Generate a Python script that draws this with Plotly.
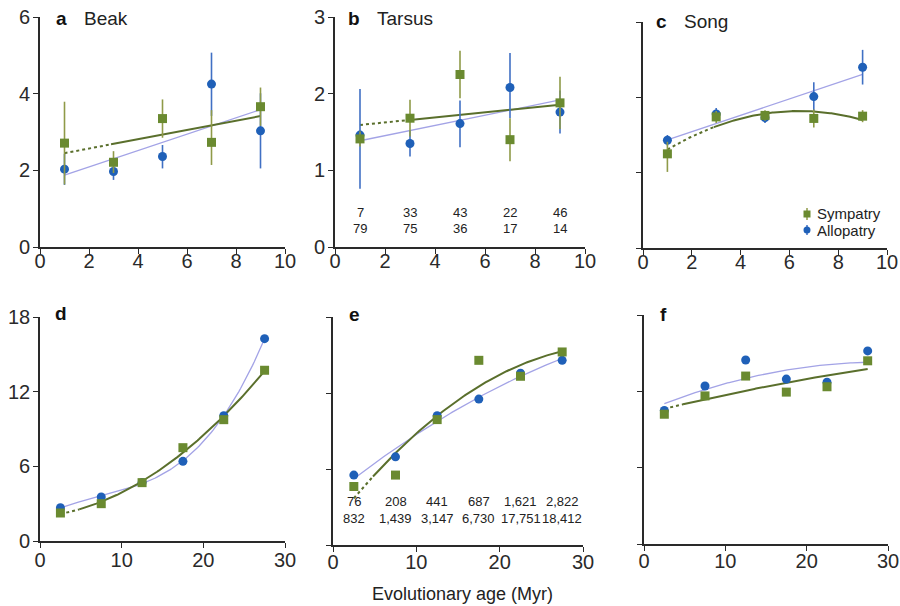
import numpy as np
import plotly.graph_objects as go

W, H = 900, 606

# ---------------- data ----------------
age_top = [1, 3, 5, 7, 9]
age_bot = [2.5, 7.5, 12.5, 17.5, 22.5, 27.5]

beak_sym = [2.71, 2.21, 3.35, 2.73, 3.66]
beak_sym_up = [1.08, 0.29, 0.50, 0.84, 0.50]
beak_sym_dn = [1.08, 0.28, 0.50, 0.59, 0.50]
beak_allo = [2.03, 1.97, 2.36, 4.25, 3.03]
beak_allo_up = [0.40, 0.22, 0.30, 0.82, 0.98]
beak_allo_dn = [0.41, 0.22, 0.31, 0.83, 0.98]

tarsus_sym = [1.41, 1.68, 2.25, 1.40, 1.88]
tarsus_sym_up = [0.10, 0.24, 0.31, 0.28, 0.34]
tarsus_sym_dn = [0.10, 0.24, 0.31, 0.28, 0.34]
tarsus_allo = [1.46, 1.35, 1.61, 2.08, 1.76]
tarsus_allo_up = [0.60, 0.17, 0.30, 0.45, 0.28]
tarsus_allo_dn = [0.70, 0.17, 0.31, 0.40, 0.28]

song_sym = [1.25, 1.74, 1.76, 1.72, 1.75]
song_sym_up = [0.16, 0.08, 0.07, 0.12, 0.08]
song_sym_dn = [0.24, 0.08, 0.07, 0.12, 0.08]
song_allo = [1.43, 1.78, 1.73, 2.01, 2.40]
song_allo_up = [0.07, 0.08, 0.07, 0.19, 0.23]
song_allo_dn = [0.07, 0.08, 0.07, 0.19, 0.23]

d_sym = [2.25, 3.00, 4.69, 7.50, 9.75, 13.72]
d_allo = [2.68, 3.54, 4.70, 6.40, 10.07, 16.26]
e_sym = [0.77, 0.92, 1.65, 2.43, 2.22, 2.54]
e_allo = [0.92, 1.16, 1.70, 1.92, 2.26, 2.43]
f_sym = [1.70, 1.94, 2.20, 1.99, 2.06, 2.40]
f_allo = [1.75, 2.07, 2.41, 2.16, 2.12, 2.53]

tarsus_n_sym = ["7", "33", "43", "22", "46"]
tarsus_n_allo = ["79", "75", "36", "17", "14"]
e_n_sym = ["76", "208", "441", "687", "1,621", "2,822"]
e_n_allo = ["832", "1,439", "3,147", "6,730", "17,751", "18,412"]

legend_names = ["Sympatry", "Allopatry"]

# ---------------- style ----------------
BLUE = "#1f60b8"
BLUE_ERR = "#4070c4"
BLUE_FIT = "#a3a3e6"
GREEN = "#6a8a30"
GREEN_ERR = "#8f9a48"
GREEN_FIT = "#5a6f2c"
AX = "#2a2a2a"
FONT = "Liberation Sans, Arial, sans-serif"
TICK_SIZE = 20

# panel pixel boxes: (x0px, x1px, ybottom_px, ytop_px)
panels = {
    "a": dict(box=(40, 285, 247, 17), xr=[0, 10], yr=[0, 6], xt=[0, 2, 4, 6, 8, 10], yt=[0, 2, 4, 6], ylab=True, so=-10),
    "b": dict(box=(335, 585, 247, 17), xr=[0, 10], yr=[0, 3], xt=[0, 2, 4, 6, 8, 10], yt=[0, 1, 2, 3], ylab=True, so=-10),
    "c": dict(box=(643, 887, 248, 22), xr=[0, 10], yr=[0, 3], xt=[0, 2, 4, 6, 8, 10], yt=[0, 1, 2, 3], ylab=False, so=-10),
    "d": dict(box=(40, 285, 541, 317), xr=[0, 30], yr=[0, 18], xt=[0, 10, 20, 30], yt=[0, 6, 12, 18], ylab=True, so=-5),
    "e": dict(box=(333, 583, 545, 317), xr=[0, 30], yr=[0, 3], xt=[0, 10, 20, 30], yt=[0, 1, 2, 3], ylab=False, so=-7),
    "f": dict(box=(644, 888, 544, 315), xr=[0, 30], yr=[0, 3], xt=[0, 10, 20, 30], yt=[0, 1, 2, 3], ylab=False, so=-7),
}

fig = go.Figure()
layout = dict(
    width=W, height=H, margin=dict(l=0, r=0, t=0, b=0, autoexpand=False),
    paper_bgcolor="white", plot_bgcolor="white",
    font=dict(family=FONT, color=AX),
    annotations=[], shapes=[], showlegend=False,
)

axis_ids = {}
for i, (k, p) in enumerate(panels.items()):
    n = i + 1
    sfx = "" if n == 1 else str(n)
    x0, x1, yb, yt_ = p["box"]
    axis_ids[k] = ("x" + sfx, "y" + sfx)
    layout["xaxis" + sfx] = dict(
        domain=[x0 / W, x1 / W], range=p["xr"], anchor="y" + sfx, automargin=False,
        showline=True, linecolor=AX, linewidth=1.6, ticks="outside", ticklen=5,
        tickwidth=1.4, tickcolor=AX, tickvals=p["xt"], showgrid=False, zeroline=False,
        tickfont=dict(size=TICK_SIZE, color=AX, family=FONT), ticklabelstandoff=p["so"],
    )
    layout["yaxis" + sfx] = dict(
        domain=[1 - yb / H, 1 - yt_ / H], range=p["yr"], anchor="x" + sfx, automargin=False,
        showline=True, linecolor=AX, linewidth=1.6, ticks="outside", ticklen=5,
        tickwidth=1.4, tickcolor=AX, tickvals=p["yt"], showgrid=False, zeroline=False,
        showticklabels=p["ylab"], tickfont=dict(size=TICK_SIZE, color=AX, family=FONT),
        ticklabelstandoff=-1,
    )


def fit_traces(xs, ys, deg, xa, ya, color, width, dash_to=None):
    c = np.polyfit(xs, ys, deg)
    if dash_to is None:
        gx = np.linspace(xs[0], xs[-1], 120)
        fig.add_trace(go.Scatter(x=gx, y=np.polyval(c, gx), mode="lines", xaxis=xa, yaxis=ya,
                                 line=dict(color=color, width=width), hoverinfo="skip"))
    else:
        gx1 = np.linspace(xs[0], dash_to, 30)
        gx2 = np.linspace(dash_to, xs[-1], 120)
        fig.add_trace(go.Scatter(x=gx1, y=np.polyval(c, gx1), mode="lines", xaxis=xa, yaxis=ya,
                                 line=dict(color=color, width=width, dash="3px,3px"), hoverinfo="skip"))
        fig.add_trace(go.Scatter(x=gx2, y=np.polyval(c, gx2), mode="lines", xaxis=xa, yaxis=ya,
                                 line=dict(color=color, width=width), hoverinfo="skip"))


def points(xs, ys, xa, ya, kind, up=None, dn=None):
    if kind == "allo":
        mk = dict(symbol="circle", size=9, color=BLUE)
        ec, name = BLUE_ERR, legend_names[1]
    else:
        mk = dict(symbol="square", size=9, color=GREEN)
        ec, name = GREEN_ERR, legend_names[0]
    err = None
    if up is not None:
        err = dict(type="data", array=up, arrayminus=dn, symmetric=False, color=ec, thickness=1.6, width=0)
    fig.add_trace(go.Scatter(x=xs, y=ys, mode="markers", xaxis=xa, yaxis=ya, marker=mk, error_y=err, name=name))


top_sets = {
    "a": (beak_sym, beak_sym_up, beak_sym_dn, beak_allo, beak_allo_up, beak_allo_dn, 1, 1),
    "b": (tarsus_sym, tarsus_sym_up, tarsus_sym_dn, tarsus_allo, tarsus_allo_up, tarsus_allo_dn, 1, 1),
    "c": (song_sym, song_sym_up, song_sym_dn, song_allo, song_allo_up, song_allo_dn, 2, 1),
}
for k, (s, su, sd, a, au, ad, gdeg, bdeg) in top_sets.items():
    xa, ya = axis_ids[k]
    fit_traces(age_top, a, bdeg, xa, ya, BLUE_FIT, 1.3)
    fit_traces(age_top, s, gdeg, xa, ya, GREEN_FIT, 2.0, dash_to=2.9)
    points(age_top, a, xa, ya, "allo", au, ad)
    points(age_top, s, xa, ya, "sym", su, sd)

bot_sets = {
    "d": (d_sym, d_allo, 2, 3),
    "e": (e_sym, e_allo, 2, 2),
    "f": (f_sym, f_allo, 2, 2),
}
for k, (s, a, gdeg, bdeg) in bot_sets.items():
    xa, ya = axis_ids[k]
    fit_traces(age_bot, a, bdeg, xa, ya, BLUE_FIT, 1.3)
    fit_traces(age_bot, s, gdeg, xa, ya, GREEN_FIT, 2.0, dash_to=4.8)
    points(age_bot, a, xa, ya, "allo")
    points(age_bot, s, xa, ya, "sym")

ann = layout["annotations"]
shp = layout["shapes"]


def px(x):
    return x / W


def py(y):
    return 1 - y / H


# panel labels
labels = [("a", "Beak", 54, 82, 18), ("b", "Tarsus", 346, 375, 18), ("c", "Song", 654, 682, 21),
          ("d", "", 53, 0, 313), ("e", "", 347, 0, 314), ("f", "", 658, 0, 314)]
for letter, name, lx, nx, yy in labels:
    ann.append(dict(text="<b>" + letter + "</b>", x=px(lx), y=py(yy), xref="paper", yref="paper",
                    xanchor="left", yanchor="middle", showarrow=False, font=dict(size=19, color="#111", family=FONT)))
    if name:
        ann.append(dict(text=name, x=px(nx), y=py(yy), xref="paper", yref="paper",
                        xanchor="left", yanchor="middle", showarrow=False, font=dict(size=19, color="#222", family=FONT)))

# sample sizes
for xv, t1, t2 in zip(age_top, tarsus_n_sym, tarsus_n_allo):
    ann.append(dict(text=t1, x=xv, y=py(212), xref="x2", yref="paper", showarrow=False,
                    font=dict(size=13, color="#222", family=FONT)))
    ann.append(dict(text=t2, x=xv, y=py(229), xref="x2", yref="paper", showarrow=False,
                    font=dict(size=13, color="#222", family=FONT)))
for xv, t1, t2 in zip(age_bot, e_n_sym, e_n_allo):
    ann.append(dict(text=t1, x=xv, y=py(511), xref="x5", yref="paper", showarrow=False,
                    font=dict(size=13, color="#222", family=FONT)))
    ann.append(dict(text=t2, x=xv, y=py(528), xref="x5", yref="paper", showarrow=False,
                    font=dict(size=13, color="#222", family=FONT)))

ann.append(dict(text="Evolutionary age (Myr)", x=px(462), y=py(594), xref="paper", yref="paper",
                showarrow=False, xanchor="center", yanchor="middle", font=dict(size=18, color="#222", family=FONT)))

# manual legend (panel c)
leg_x, leg_y1, leg_y2 = 807, 214, 230
shp.append(dict(type="line", xref="paper", yref="paper", x0=px(leg_x), x1=px(leg_x), y0=py(leg_y1 - 6), y1=py(leg_y1 + 6),
                line=dict(color=GREEN_ERR, width=1.5)))
shp.append(dict(type="rect", xref="paper", yref="paper", x0=px(leg_x - 3.5), x1=px(leg_x + 3.5),
                y0=py(leg_y1 - 3.5), y1=py(leg_y1 + 3.5), fillcolor=GREEN, line=dict(width=0)))
shp.append(dict(type="line", xref="paper", yref="paper", x0=px(leg_x), x1=px(leg_x), y0=py(leg_y2 - 5), y1=py(leg_y2 + 5),
                line=dict(color=BLUE_ERR, width=1.5)))
shp.append(dict(type="circle", xref="paper", yref="paper", x0=px(leg_x - 3.5), x1=px(leg_x + 3.5),
                y0=py(leg_y2 - 3.5), y1=py(leg_y2 + 3.5), fillcolor=BLUE, line=dict(width=0)))
for nm, yy in zip(legend_names, [leg_y1, leg_y2]):
    ann.append(dict(text=nm, x=px(leg_x + 8), y=py(yy), xref="paper", yref="paper", showarrow=False,
                    xanchor="left", yanchor="middle", font=dict(size=15, color="#222", family=FONT)))

fig.update_layout(**layout)
fig.write_html("out.html")
